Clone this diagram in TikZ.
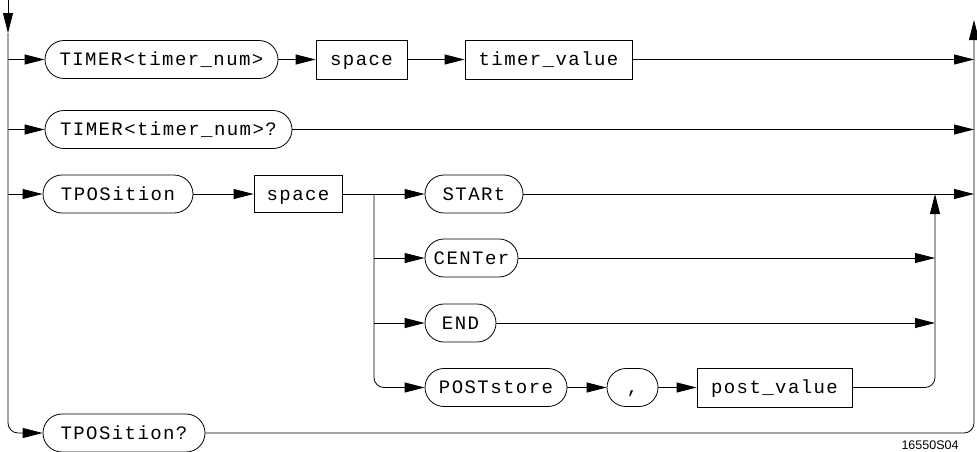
\documentclass[tikz,border=0pt]{standalone}
\usepackage{fontspec}
\newfontfamily\plotfont[LetterSpace=7.5]{Liberation Mono}
\newfontfamily\labfont{Liberation Sans}
\usetikzlibrary{arrows.meta,shapes.misc}
\begin{document}
\begin{tikzpicture}[x=1pt,y=-1pt,
  every node/.style={font=\plotfont\fontsize{19}{19}\selectfont, inner sep=0pt, line width=0.8pt, text height=12.5pt, text depth=0pt},
  pill/.style={draw, rounded rectangle, minimum height=38pt},
  box/.style={draw, rectangle, minimum height=39pt},
  line/.style={line width=0.8pt},
  arr/.style={line, -{Triangle[length=20pt,width=10pt]}},
]
\useasboundingbox (0,0) rectangle (977,451);

\node[pill, minimum width=233pt] (t1) at (161.5,59.5) {TIMER<timer\_num>};
\node[box, minimum width=91pt] (s1) at (361.5,59.5) {space};
\node[box, minimum width=167pt] (tv) at (548.5,59.5) {timer\_value};
\node[pill, minimum width=247pt] (t2) at (168.5,129.5) {TIMER<timer\_num>?};
\node[pill, minimum width=150pt] (tp) at (118,194) {TPOSition};
\node[box, minimum width=88pt, minimum height=37pt] (s3) at (298,194) {space};
\node[pill, minimum width=98pt] (st) at (474,194) {STARt};
\node[pill, minimum width=93pt] (ce) at (471.5,258) {CENTer};
\node[pill, minimum width=71pt] (en) at (460.5,323) {END};
\node[pill, minimum width=142pt] (po) at (496,387.5) {POSTstore};
\node[pill, minimum width=51pt] (co) at (632.5,387.5) {,};
\node[box, minimum width=155pt] (pv) at (774.5,387.5) {post\_value};
\node[pill, minimum width=162pt] (tq) at (124,433) {TPOSition?};
\node[font=\labfont\fontsize{12.5}{12.5}\selectfont, text height=, text depth=, anchor=north] (lab) at (930,440) {16550S04};

\coordinate (ltop) at (8,0);
\coordinate (ldn) at (8,33);
\coordinate (rtop) at (974,20);
\coordinate (bx) at (374,194);
\coordinate (mtop) at (935,194);

\draw[arr] (ltop) -- (ldn);
\draw[arr, rounded corners=10pt] (ldn) |- (tq.west);
\draw[arr] (ldn |- t1.west) -- (t1.west);
\draw[arr] (ldn |- t2.west) -- (t2.west);
\draw[arr] (ldn |- tp.west) -- (tp.west);

\draw[arr] (t1.east) -- (s1.west);
\draw[arr] (s1.east) -- (tv.west);
\draw[arr] (tv.east) -- (tv.east -| rtop);
\draw[arr] (t2.east) -- (t2.east -| rtop);
\draw[arr] (tp.east) -- (s3.west);
\draw[arr] (s3.east) -- (st.west);
\draw[arr] (st.east) -- (st.east -| rtop);
\draw[arr, rounded corners=10pt] (tq.east) -| (rtop);

\draw[arr, rounded corners=10pt] (bx) |- (po.west);
\draw[arr] (bx |- ce.west) -- (ce.west);
\draw[arr] (bx |- en.west) -- (en.west);
\draw[arr] (ce.east) -- (ce.east -| mtop);
\draw[arr] (en.east) -- (en.east -| mtop);
\draw[arr] (po.east) -- (co.west);
\draw[arr] (co.east) -- (pv.west);
\draw[arr, rounded corners=10pt] (pv.east) -| (mtop);
\end{tikzpicture}
\end{document}
